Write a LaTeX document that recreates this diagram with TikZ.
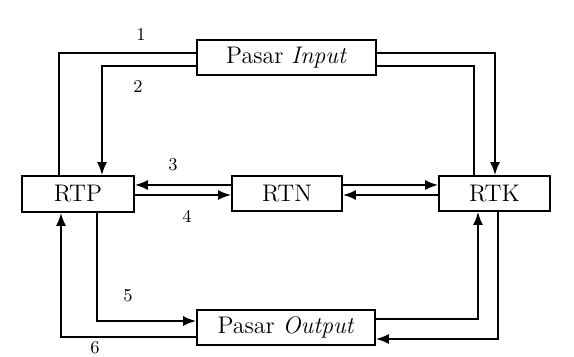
\documentclass[tikz,border=0pt]{standalone}
\usetikzlibrary{arrows.meta}
\begin{document}
\begin{tikzpicture}[x=0.5pt,y=-0.5pt,
  box/.style={draw,line width=0.9pt,inner sep=0pt,font=\fontsize{12}{14}\selectfont},
  conn/.style={line width=0.9pt},
  arr/.style={conn,-{Latex[length=6.5pt,width=5pt]}},
  lab/.style={font=\fontsize{9}{11}\selectfont,inner sep=0pt}]
\useasboundingbox (0,0) rectangle (574,357);
\node[box,minimum width=89.5pt,minimum height=17.5pt] (pin) at (286.5,57.5) {Pasar \textit{Input}};
\node[box,minimum width=56pt,minimum height=18pt] (rtp) at (78,194) {RTP};
\node[box,minimum width=55pt,minimum height=17.5pt] (rtn) at (287,193.5) {RTN};
\node[box,minimum width=55.5pt,minimum height=17.5pt] (rtk) at (494.5,193.5) {RTK};
\node[box,minimum width=89pt,minimum height=17.5pt] (pout) at (286,327.5) {Pasar \textit{Output}};
% top
\draw[conn] (pin.west |- 0,53) -| (rtp.north -| 59,0);
\draw[arr] (pin.west |- 0,66) -| (rtp.north -| 102,0);
\draw[arr] (pin.east |- 0,53) -| (rtk.north -| 495,0);
\draw[conn] (pin.east |- 0,66) -| (rtk.north -| 474,0);
% middle
\draw[arr] (rtn.west |- 0,185) -- (rtp.east |- 0,185);
\draw[arr] (rtp.east |- 0,195) -- (rtn.west |- 0,195);
\draw[arr] (rtn.east |- 0,185) -- (rtk.west |- 0,185);
\draw[arr] (rtk.west |- 0,195) -- (rtn.east |- 0,195);
% bottom
\draw[arr] (rtp.south -| 97,0) |- (pout.west |- 0,321);
\draw[arr] (pout.west |- 0,337) -| (rtp.south -| 61,0);
\draw[arr] (pout.east |- 0,319) -| (rtk.south -| 478,0);
\draw[arr] (rtk.south -| 498,0) |- (pout.east |- 0,339);
% labels
\node[lab] (l1) at (141,35) {1};
\node[lab] (l2) at (138,87) {2};
\node[lab] (l3) at (173,165) {3};
\node[lab] (l4) at (187,216) {4};
\node[lab] (l5) at (128,296) {5};
\node[lab] (l6) at (95,348) {6};
\end{tikzpicture}
\end{document}
